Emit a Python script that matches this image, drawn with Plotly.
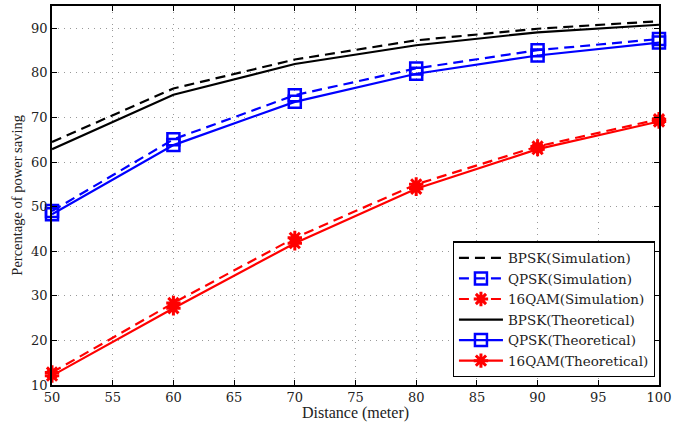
import plotly.graph_objects as go

distance = [50, 60, 70, 80, 90, 100]
bpsk_sim = [64.5, 76.5, 83.0, 87.3, 89.9, 91.6]
qpsk_sim = [49.0, 65.1, 75.0, 81.0, 85.1, 87.6]
qam_sim = [12.8, 28.4, 43.0, 55.0, 63.5, 69.6]
bpsk_theo = [62.9, 75.1, 82.0, 86.2, 89.1, 90.8]
qpsk_theo = [48.3, 63.8, 73.5, 79.8, 83.9, 86.8]
qam_theo = [12.1, 27.2, 41.8, 54.0, 62.9, 69.1]

x_ticks = [50, 55, 60, 65, 70, 75, 80, 85, 90, 95, 100]
y_ticks = [10, 20, 30, 40, 50, 60, 70, 80, 90]

FONT = "DejaVu Serif"
TITLE_FONT = "Liberation Serif"
DASH = "10px,6px"

fig = go.Figure()

def add(name, y, color, dash, symbol):
    mode = "lines" if symbol is None else "lines+markers"
    kw = {}
    if symbol is not None:
        if symbol == "square-open":
            kw["marker"] = dict(symbol=symbol, size=12, color=color,
                                line=dict(width=2.5, color=color))
        else:
            kw["marker"] = dict(symbol=symbol, size=12, color=color,
                                line=dict(width=3, color=color))
    fig.add_trace(go.Scatter(x=distance, y=y, name=name, mode=mode, cliponaxis=False,
                             line=dict(color=color, width=2.2, dash=dash), **kw))

add("BPSK(Simulation)", bpsk_sim, "black", DASH, None)
add("QPSK(Simulation)", qpsk_sim, "blue", DASH, "square-open")
add("16QAM(Simulation)", qam_sim, "red", DASH, "asterisk-open")
add("BPSK(Theoretical)", bpsk_theo, "black", "solid", None)
add("QPSK(Theoretical)", qpsk_theo, "blue", "solid", "square-open")
add("16QAM(Theoretical)", qam_theo, "red", "solid", "asterisk-open")

axis_common = dict(
    showline=True, linecolor="black", linewidth=1.5, mirror="ticks",
    ticks="inside", ticklen=5, tickcolor="black", tickwidth=1,
    showgrid=True, gridcolor="#999999", griddash="1px,5px", gridwidth=1,
    zeroline=False, automargin=False, ticklabeloverflow="allow",
    tickfont=dict(family=FONT, size=13, color="#222"),
)

fig.update_layout(
    width=673, height=426,
    margin=dict(l=52, r=14, t=6, b=41),
    paper_bgcolor="white", plot_bgcolor="white",
    font=dict(family=FONT, size=13, color="#222"),
    xaxis=dict(range=[49.999, 100.001], tickvals=x_ticks, **axis_common),
    yaxis=dict(range=[10, 95], tickvals=y_ticks, **axis_common),
    legend=dict(x=0.993, y=0.02, xanchor="right", yanchor="bottom",
                bgcolor="white", bordercolor="black", borderwidth=1.2,
                font=dict(family=FONT, size=13.5, color="#222"),
                tracegroupgap=0, itemwidth=44),
    showlegend=True,
    annotations=[
        dict(text="Distance (meter)", xref="paper", yref="paper",
             x=0.5, y=-0.075, xanchor="center", yanchor="middle",
             showarrow=False, font=dict(family=TITLE_FONT, size=16, color="#222")),
        dict(text="Percentage of power saving", xref="paper", yref="paper",
             x=-0.059, y=0.5, xanchor="center", yanchor="middle", textangle=-90,
             showarrow=False, font=dict(family=TITLE_FONT, size=14.5, color="#222")),
    ],
)

fig.write_html("out.html", config={"displayModeBar": False},
               post_script="document.body.style.margin='0';")
